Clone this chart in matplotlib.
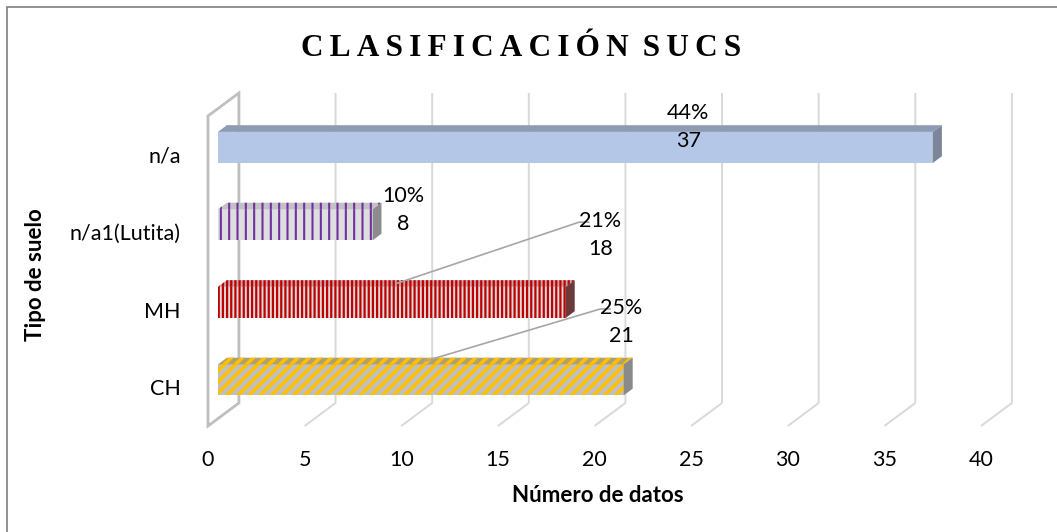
import matplotlib
matplotlib.use('Agg')
import matplotlib.pyplot as plt
from matplotlib.patches import Polygon, Rectangle

plt.rcParams['font.family'] = ['Lato', 'DejaVu Sans']

# datos
tipos = ['CH', 'MH', 'n/a1(Lutita)', 'n/a']
datos = [21, 18, 8, 37]
xticks = [0, 5, 10, 15, 20, 25, 30, 35, 40]

total = sum(datos)
porcentajes = [round(100 * d / total) for d in datos]

# estilo de cada barra: fondo, color de rayas, patron, fondo de la cara superior, cara lateral, grosor raya
estilos = [
    ('#bfbfbf', '#ffc000', '///', '#b0a070', '#8a8a8a', 2.6),
    ('#dcdcdc', '#c00000', '||||', '#c8a0a0', '#6a3a3a', 1.6),
    ('#dedede', '#7030a0', '||', '#c4c0c8', '#8c8c8c', 1.5),
    ('#b4c7e7', None, None, '#8d9cb3', '#7b8699', 0),
]

# posicion de las etiquetas (x, y) en unidades de datos
pos_etiquetas = [(21.4, 0.84), (20.3, 1.96), (10.1, 2.29), (24.85, 3.36)]
lider = [True, True, False, False]

# efecto 3D
DX, DY = 1.6, 0.297      # desplazamiento de la pared de fondo
d0, d1 = 0.32, 0.61      # profundidad de las barras
alto = 0.4

fig = plt.figure(figsize=(10.57, 5.32), dpi=100)
W, H = 1057, 532
ax = fig.add_axes([208 / W, 106 / H, 773 / W, 310 / H])
ax.set_xlim(0, 40)
ax.set_ylim(-0.5, 3.5)
for s in ax.spines.values():
    s.set_visible(False)

# marco exterior
fig.patches.append(Rectangle((7 / W, -0.1), 1.2, (532 - 7) / H + 0.1,
                             transform=fig.transFigure, fill=False,
                             edgecolor='#7f7f7f', linewidth=1.2))

# rejilla de fondo y suelo
for t in xticks[1:]:
    ax.plot([t, t + DX, t + DX], [-0.5, -0.5 + DY, 3.5 + DY],
            color='#d9d9d9', lw=1.4, clip_on=False, zorder=1,
            solid_capstyle='butt')

# pared izquierda
ax.add_patch(Polygon([(0, -0.5), (0, 3.5), (DX, 3.5 + DY), (DX, -0.5 + DY)],
                     closed=True, fill=False, edgecolor='#bfbfbf', lw=2.0,
                     clip_on=False, zorder=1))

x0 = d0 * DX
ddx = (d1 - d0) * DX
ddy = (d1 - d0) * DY

for i, (v, est) in enumerate(zip(datos, estilos)):
    fondo, raya, patron, fondo_sup, lateral, lwh = est
    yc = i + d0 * DY
    yb, yt = yc - alto / 2, yc + alto / 2
    # cara frontal
    ax.barh(yc, v, left=x0, height=alto, color=fondo, linewidth=0, zorder=3)
    if patron:
        b = ax.barh(yc, v, left=x0, height=alto, color='none', edgecolor=raya,
                    hatch=patron, linewidth=0, zorder=3)
        for p in b:
            if hasattr(p, 'set_hatch_linewidth'):
                p.set_hatch_linewidth(lwh)
    # cara superior
    sup = [(x0, yt), (x0 + v, yt), (x0 + v + ddx, yt + ddy), (x0 + ddx, yt + ddy)]
    ax.add_patch(Polygon(sup, closed=True, facecolor=fondo_sup, lw=0, zorder=3))
    if patron:
        p = Polygon(sup, closed=True, facecolor='none', edgecolor=raya,
                    hatch=patron, lw=0, zorder=3)
        if hasattr(p, 'set_hatch_linewidth'):
            p.set_hatch_linewidth(lwh)
        ax.add_patch(p)
    # cara lateral
    lat = [(x0 + v, yb), (x0 + v, yt), (x0 + v + ddx, yt + ddy), (x0 + v + ddx, yb + ddy)]
    ax.add_patch(Polygon(lat, closed=True, facecolor=lateral, lw=0, zorder=3))

    # etiquetas
    ex, ey = pos_etiquetas[i]
    ax.text(ex, ey, f'{porcentajes[i]}%\n{v}', ha='center', va='center',
            fontsize=15.5, linespacing=1.5, color='#000000', zorder=6)
    if lider[i]:
        ly = ey + 0.17
        ax.plot([ex - 0.6, ex - 1.1, x0 + v / 2 + ddx / 2, ],
                [ly, ly, yt + ddy / 2],
                color='#a6a6a6', lw=1.2, zorder=5, clip_on=False)

ax.set_xticks(xticks)
ax.set_xticklabels([str(t) for t in xticks], fontsize=15.5)
ax.set_yticks(range(len(tipos)))
ax.set_yticklabels(tipos, fontsize=15.5)
ax.tick_params(axis='x', length=0, pad=17)
ax.tick_params(axis='y', length=0, pad=19.5)

fig.text(598 / W, 1 - 495 / H, 'Número de datos', ha='center', va='center',
         fontsize=16, fontweight='bold')
fig.text(35 / W, 1 - 275 / H, 'Tipo de suelo', ha='center', va='center',
         fontsize=16, fontweight='bold', rotation=90)
fig.text(521 / W, 1 - 48 / H, '\u2009'.join('CLASIFICACIÓN') + '\u2009 ' + '\u2009'.join('SUCS'),
         ha='center', va='center', fontsize=22.5, fontweight='bold',
         family=['Liberation Serif', 'DejaVu Serif'])

fig.savefig('out.png', dpi=100, facecolor='white')
